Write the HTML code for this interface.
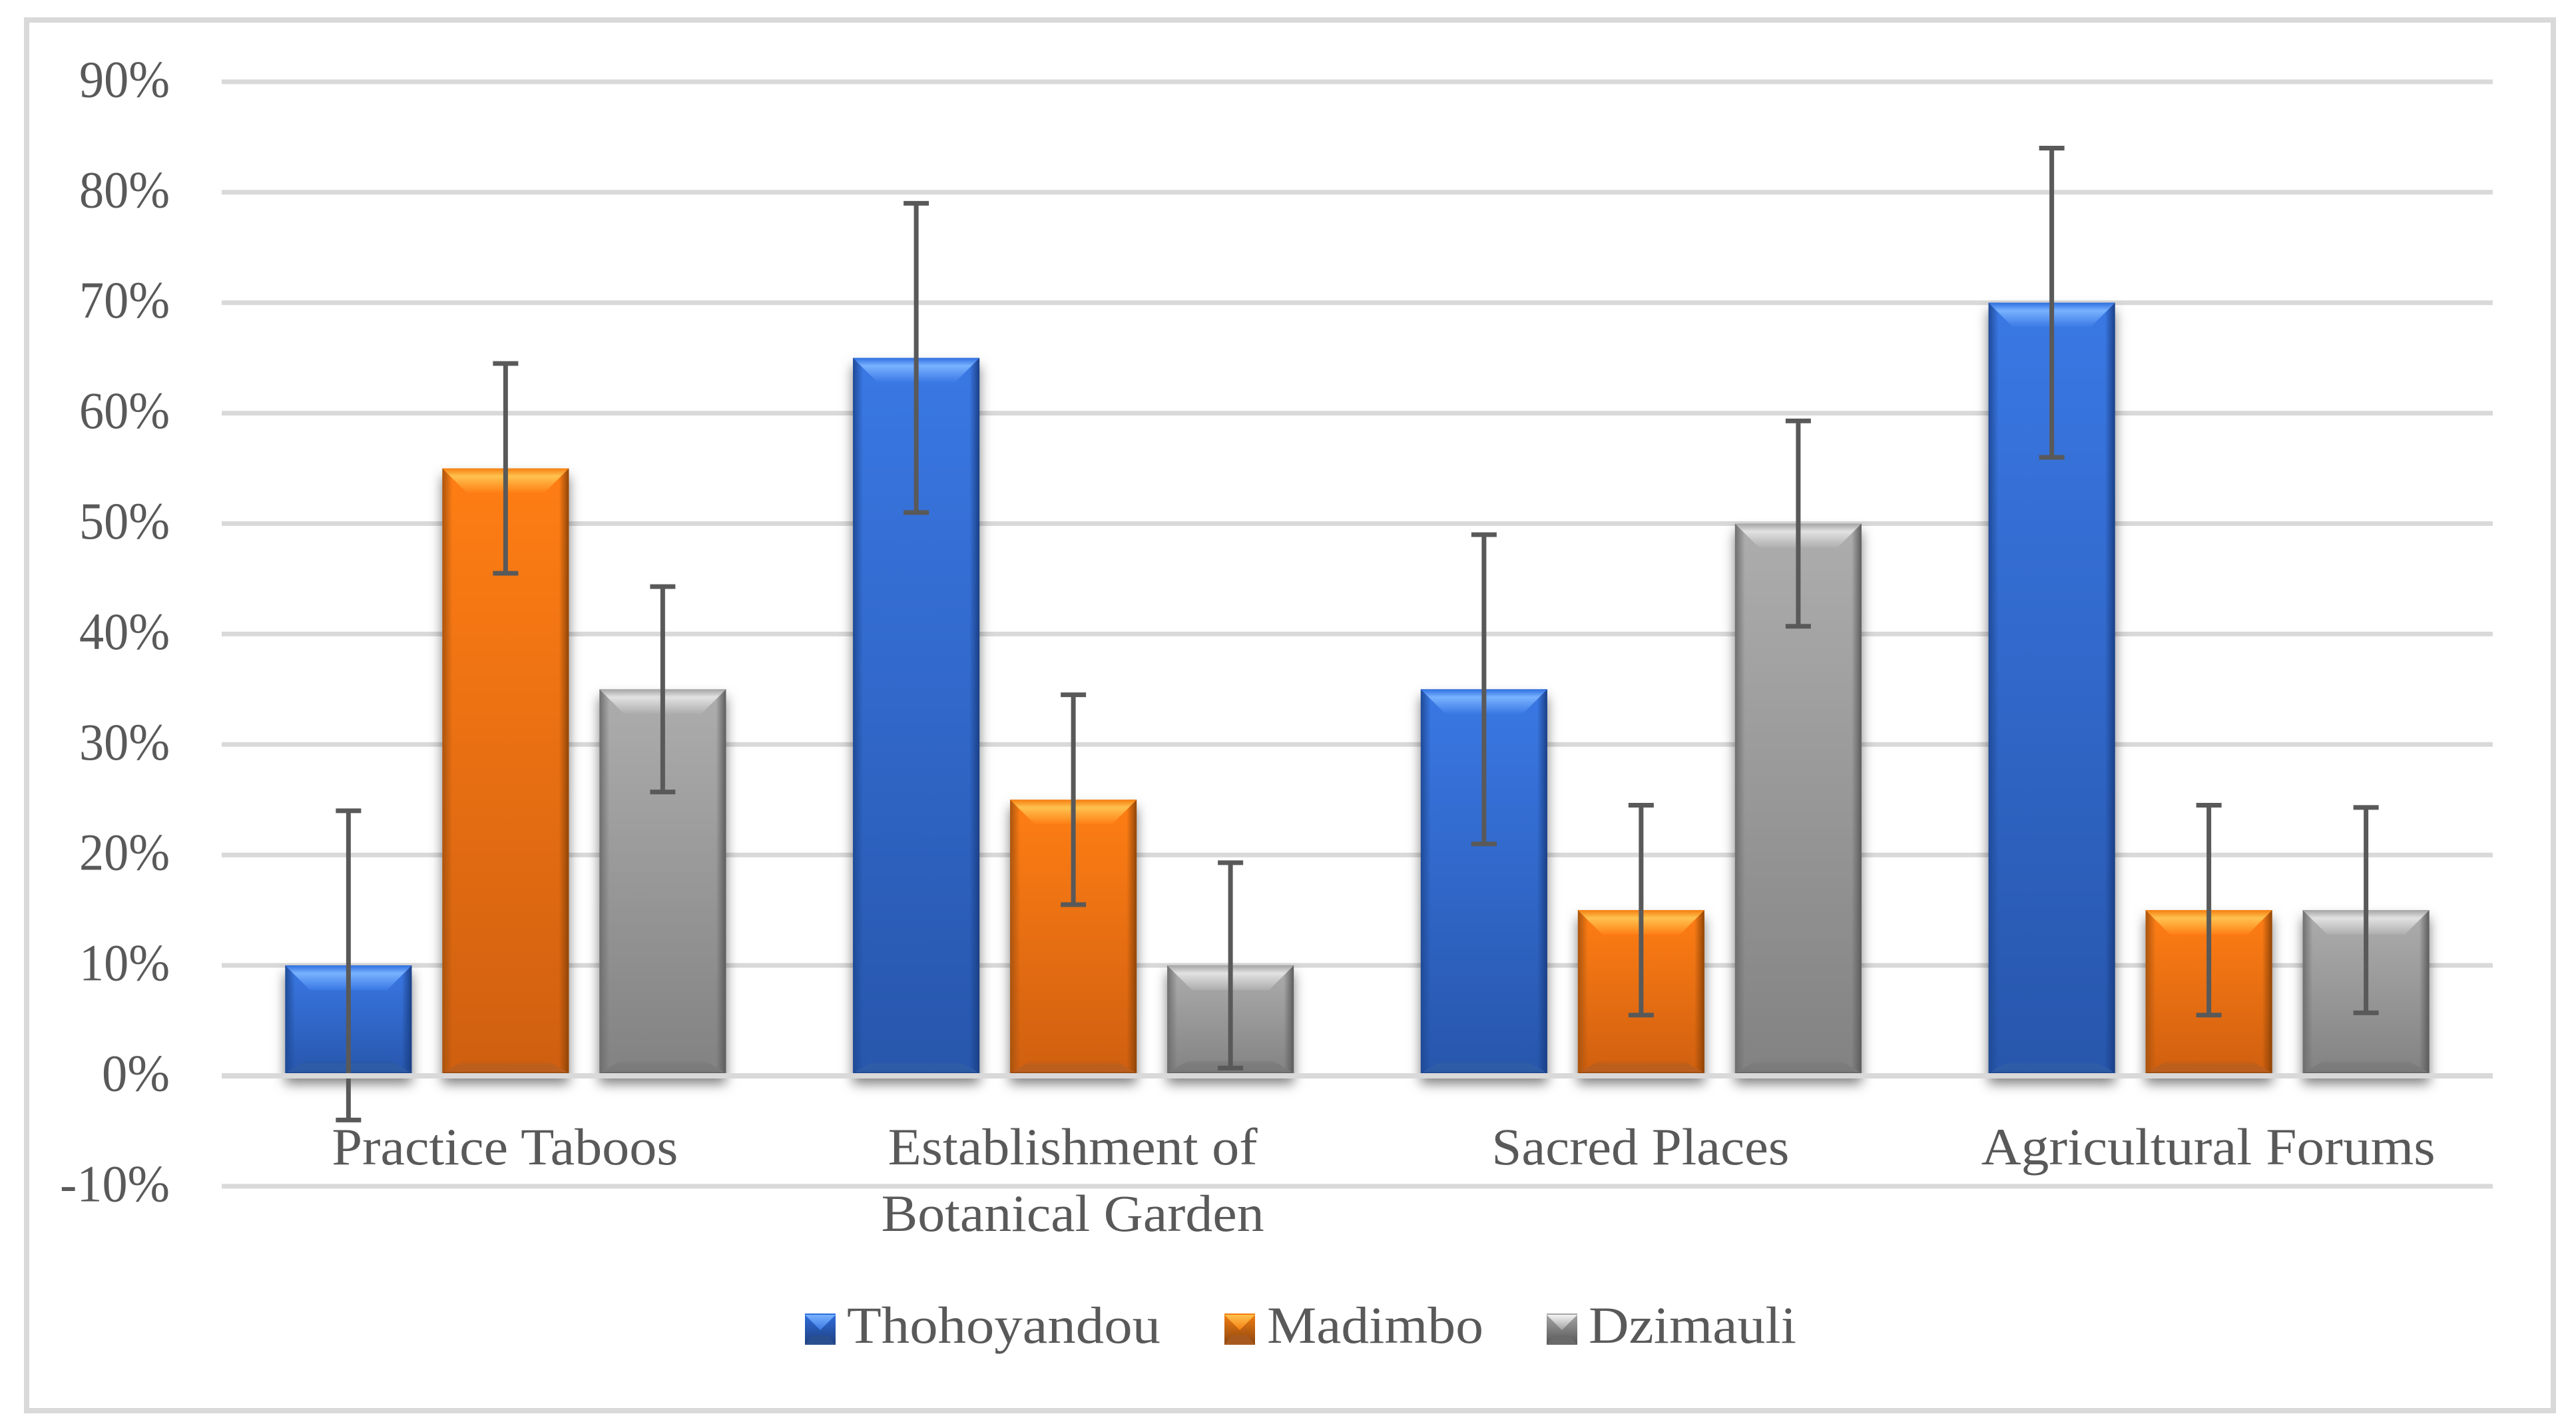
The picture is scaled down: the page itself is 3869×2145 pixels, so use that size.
<!DOCTYPE html>
<html lang="en">
<head>
<meta charset="utf-8">
<title>Practices by location</title>
<style>
  html, body { margin: 0; padding: 0; background: #ffffff; }
  svg { display: block; }
  text { font-family: "Liberation Serif", serif; fill: #595959; font-size: 78px; }
</style>
</head>
<body>
<svg id="chart" xmlns="http://www.w3.org/2000/svg" width="3869" height="2145" viewBox="0 0 3869 2145">
  <defs>
    <filter id="bar-shadow" x="-30%" y="-10%" width="160%" height="130%" color-interpolation-filters="sRGB">
      <feDropShadow dx="0" dy="12" stdDeviation="9" flood-color="#000000" flood-opacity="0.5"/>
    </filter>

    <linearGradient id="body-0" x1="0" y1="0" x2="0" y2="1"><stop offset="0" stop-color="#3a78e4"/><stop offset="1" stop-color="#2756ac"/></linearGradient>
    <linearGradient id="body-1" x1="0" y1="0" x2="0" y2="1"><stop offset="0" stop-color="#ff7e14"/><stop offset="1" stop-color="#cf5f10"/></linearGradient>
    <linearGradient id="body-2" x1="0" y1="0" x2="0" y2="1"><stop offset="0" stop-color="#adadad"/><stop offset="1" stop-color="#828282"/></linearGradient>

    <linearGradient id="top-0" x1="0" y1="0" x2="0" y2="1"><stop offset="0" stop-color="#2f6fe0"/><stop offset="0.32" stop-color="#78b2ff"/><stop offset="1" stop-color="#3a78e4"/></linearGradient>
    <linearGradient id="top-1" x1="0" y1="0" x2="0" y2="1"><stop offset="0" stop-color="#f57f10"/><stop offset="0.32" stop-color="#ffc24f"/><stop offset="1" stop-color="#ff7e14"/></linearGradient>
    <linearGradient id="top-2" x1="0" y1="0" x2="0" y2="1"><stop offset="0" stop-color="#a4a4a4"/><stop offset="0.32" stop-color="#e2e2e2"/><stop offset="1" stop-color="#adadad"/></linearGradient>

    <linearGradient id="bottom-0" x1="0" y1="0" x2="0" y2="1"><stop offset="0" stop-color="#2756ac"/><stop offset="0.3" stop-color="#2f5ca6"/><stop offset="0.85" stop-color="#2e5ba5"/><stop offset="1" stop-color="#1c4186"/></linearGradient>
    <linearGradient id="bottom-1" x1="0" y1="0" x2="0" y2="1"><stop offset="0" stop-color="#cf5f10"/><stop offset="0.3" stop-color="#bd5f1c"/><stop offset="0.85" stop-color="#bc5f1e"/><stop offset="1" stop-color="#8f4310"/></linearGradient>
    <linearGradient id="bottom-2" x1="0" y1="0" x2="0" y2="1"><stop offset="0" stop-color="#828282"/><stop offset="0.3" stop-color="#7c7c7c"/><stop offset="0.85" stop-color="#7a7a7a"/><stop offset="1" stop-color="#5e5e5e"/></linearGradient>

    <linearGradient id="left-0" x1="0" y1="0" x2="1" y2="0"><stop offset="0" stop-color="#1f4a96"/><stop offset="1" stop-color="#1f4a96" stop-opacity="0"/></linearGradient>
    <linearGradient id="left-1" x1="0" y1="0" x2="1" y2="0"><stop offset="0" stop-color="#a9540f"/><stop offset="1" stop-color="#a9540f" stop-opacity="0"/></linearGradient>
    <linearGradient id="left-2" x1="0" y1="0" x2="1" y2="0"><stop offset="0" stop-color="#6e6e6e"/><stop offset="1" stop-color="#6e6e6e" stop-opacity="0"/></linearGradient>

    <linearGradient id="right-0" x1="1" y1="0" x2="0" y2="0"><stop offset="0" stop-color="#1a3f85"/><stop offset="1" stop-color="#1a3f85" stop-opacity="0"/></linearGradient>
    <linearGradient id="right-1" x1="1" y1="0" x2="0" y2="0"><stop offset="0" stop-color="#8f4508"/><stop offset="1" stop-color="#8f4508" stop-opacity="0"/></linearGradient>
    <linearGradient id="right-2" x1="1" y1="0" x2="0" y2="0"><stop offset="0" stop-color="#5c5c5c"/><stop offset="1" stop-color="#5c5c5c" stop-opacity="0"/></linearGradient>

    <linearGradient id="key-top-0" x1="0" y1="0" x2="0" y2="1"><stop offset="0" stop-color="#78b2ff"/><stop offset="1" stop-color="#3a78e4"/></linearGradient>
    <linearGradient id="key-top-1" x1="0" y1="0" x2="0" y2="1"><stop offset="0" stop-color="#ffc24f"/><stop offset="1" stop-color="#f57f10"/></linearGradient>
    <linearGradient id="key-top-2" x1="0" y1="0" x2="0" y2="1"><stop offset="0" stop-color="#f4f4f4"/><stop offset="1" stop-color="#a0a0a0"/></linearGradient>
    <linearGradient id="key-body-0" x1="0" y1="0" x2="0" y2="1"><stop offset="0" stop-color="#2f6fe0"/><stop offset="1" stop-color="#1f3f7e"/></linearGradient>
    <linearGradient id="key-body-1" x1="0" y1="0" x2="0" y2="1"><stop offset="0" stop-color="#f57f10"/><stop offset="1" stop-color="#8a4510"/></linearGradient>
    <linearGradient id="key-body-2" x1="0" y1="0" x2="0" y2="1"><stop offset="0" stop-color="#a8a8a8"/><stop offset="1" stop-color="#555555"/></linearGradient>
  </defs>

  <rect x="0" y="0" width="3869" height="2145" fill="#ffffff"/>
  <rect x="40" y="30" width="3795" height="2089" fill="#ffffff" stroke="#d9d9d9" stroke-width="8"/>

  <g id="grid-layer"></g>
  <g id="bar-layer"></g>
  <g id="error-layer"></g>
  <g id="axis-layer"></g>
  <g id="ytick-layer"></g>
  <g id="xtick-layer"></g>

  <g>
    <g>
      <rect x="1209" y="1973" width="46" height="47" fill="url(#key-body-0)"/>
      <polygon points="1209,1975 1255,1975 1232,1998" fill="url(#key-top-0)"/>
      <polygon points="1209,2020 1255,2020 1244,2006 1220,2006" fill="#2a4f90"/>
      <text x="1272" y="2017" textLength="471" lengthAdjust="spacingAndGlyphs">Thohoyandou</text>
    </g>
    <g>
      <rect x="1839" y="1973" width="46" height="47" fill="url(#key-body-1)"/>
      <polygon points="1839,1975 1885,1975 1862,1998" fill="url(#key-top-1)"/>
      <polygon points="1839,2020 1885,2020 1874,2006 1850,2006" fill="#a85a1e"/>
      <text x="1903" y="2017" textLength="325" lengthAdjust="spacingAndGlyphs">Madimbo</text>
    </g>
    <g>
      <rect x="2323" y="1973" width="46" height="47" fill="url(#key-body-2)"/>
      <polygon points="2323,1975 2369,1975 2346,1998" fill="url(#key-top-2)"/>
      <polygon points="2323,2020 2369,2020 2358,2006 2334,2006" fill="#6a6a6a"/>
      <text x="2386" y="2017" textLength="312" lengthAdjust="spacingAndGlyphs">Dzimauli</text>
    </g>
  </g>
</svg>

<script>
// ---- chart data ----
const categories = ["Practice Taboos", "Establishment of|Botanical Garden", "Sacred Places", "Agricultural Forums"];
const seriesNames = ["thohoyandou", "madimbo", "dzimauli"];
const thohoyandou = [10, 65, 35, 70];
const madimbo = [55, 25, 15, 15];
const dzimauli = [35, 10, 50, 15];
const thohoyandouError = [14, 14, 14, 14];
const madimboError = [9.5, 9.5, 9.5, 9.5];
const dzimauliError = [9.3, 9.3, 9.3, 9.3];
const yTicks = [90, 80, 70, 60, 50, 40, 30, 20, 10, 0, -10];

// ---- layout (separate from data) ----
const plotLeft = 333, plotRight = 3744, zeroY = 1616, pxPerPercent = 16.59;
const categoryWidth = (plotRight - plotLeft) / categories.length;
const barWidth = 190, barStep = 236;
const fittedWidth = {
  "Practice Taboos": 520,
  "Establishment of": 555,
  "Botanical Garden": 575,
  "Sacred Places": 447,
  "Agricultural Forums": 682
};

const SVG_NS = "http://www.w3.org/2000/svg";
const allValues = [thohoyandou, madimbo, dzimauli];
const allErrors = [thohoyandouError, madimboError, dzimauliError];

function yScale(v) { return zeroY - v * pxPerPercent; }
function xCenter(c, s) { return plotLeft + categoryWidth * (c + 0.5) + (s - 1) * barStep; }
function make(tag, parent) {
  const el = document.createElementNS(SVG_NS, tag);
  parent.appendChild(el);
  return el;
}
function setAll(el, pairs) {
  for (const k in pairs) el.setAttribute(k, pairs[k]);
}

const gridLayer = document.getElementById("grid-layer");
const barLayer = document.getElementById("bar-layer");
const errorLayer = document.getElementById("error-layer");
const axisLayer = document.getElementById("axis-layer");
const ytickLayer = document.getElementById("ytick-layer");
const xtickLayer = document.getElementById("xtick-layer");

// gridlines and y labels
yTicks.forEach(function (t) {
  const y = yScale(t);
  const line = make("line", t === 0 ? axisLayer : gridLayer);
  
  
  setAll(line, { x1: plotLeft, x2: plotRight, y1: y, y2: y, stroke: "#d9d9d9", "stroke-width": t === 0 ? 8 : 7 });

  const label = make("text", ytickLayer);
  
  
  const s = t + "%";
  const w = t < 0 ? 165 : (t === 0 ? 102 : 136);
  setAll(label, { x: 255 - w, y: y + 22.5, textLength: w, lengthAdjust: "spacingAndGlyphs" });
  label.textContent = s;
});

// bars and error bars
allValues.forEach(function (vals, s) {
  vals.forEach(function (v, c) {
    const cx = xCenter(c, s);
    const x = cx - barWidth / 2;
    const top = yScale(v);
    const h = zeroY - top;
    const bot = zeroY - 4;
    const x2 = x + barWidth;
    const bevelTop = Math.min(37, h / 2);
    const bevelBot = 18;

    const g = make("g", barLayer);
    
    
    g.setAttribute("filter", "url(#bar-shadow)");

    const body = make("rect", g);
    
    
    setAll(body, { x: x, y: top, width: barWidth, height: h, fill: "url(#body-" + s + ")" });

    const left = make("rect", g);
    
    
    setAll(left, { x: x, y: top, width: 15, height: h, fill: "url(#left-" + s + ")" });

    const right = make("rect", g);
    
    
    setAll(right, { x: x2 - 15, y: top, width: 15, height: h, fill: "url(#right-" + s + ")" });

    const tb = make("polygon", g);
    
    
    setAll(tb, {
      points: [x, top, x2, top, x2 - bevelTop, top + bevelTop, x + bevelTop, top + bevelTop].join(" "),
      fill: "url(#top-" + s + ")"
    });

    const bb = make("polygon", g);
    
    
    setAll(bb, {
      points: [x, bot, x2, bot, x2 - 30, bot - bevelBot, x + 30, bot - bevelBot].join(" "),
      fill: "url(#bottom-" + s + ")"
    });

    const err = allErrors[s][c];
    const yHi = yScale(v + err);
    const yLo = yScale(v - err);
    const eg = make("g", errorLayer);
    
    
    setAll(eg, { stroke: "#595959", "stroke-width": 7, fill: "none" });

    const stem = make("line", eg);
    
    
    setAll(stem, { x1: cx, x2: cx, y1: yHi, y2: yLo });

    const capHi = make("line", eg);
    
    
    setAll(capHi, { x1: cx - 19, x2: cx + 19, y1: yHi, y2: yHi });

    const capLo = make("line", eg);
    
    
    setAll(capLo, { x1: cx - 19, x2: cx + 19, y1: yLo, y2: yLo });
  });
});

// category labels
categories.forEach(function (name, c) {
  const cx = plotLeft + categoryWidth * (c + 0.5);
  name.split("|").forEach(function (part, i) {
    const label = make("text", xtickLayer);
    
    
    const w = fittedWidth[part];
    setAll(label, { x: cx - w / 2 - 1, y: 1749 + i * 100, textLength: w, lengthAdjust: "spacingAndGlyphs" });
    label.textContent = part;
  });
});
</script>
</body>
</html>
